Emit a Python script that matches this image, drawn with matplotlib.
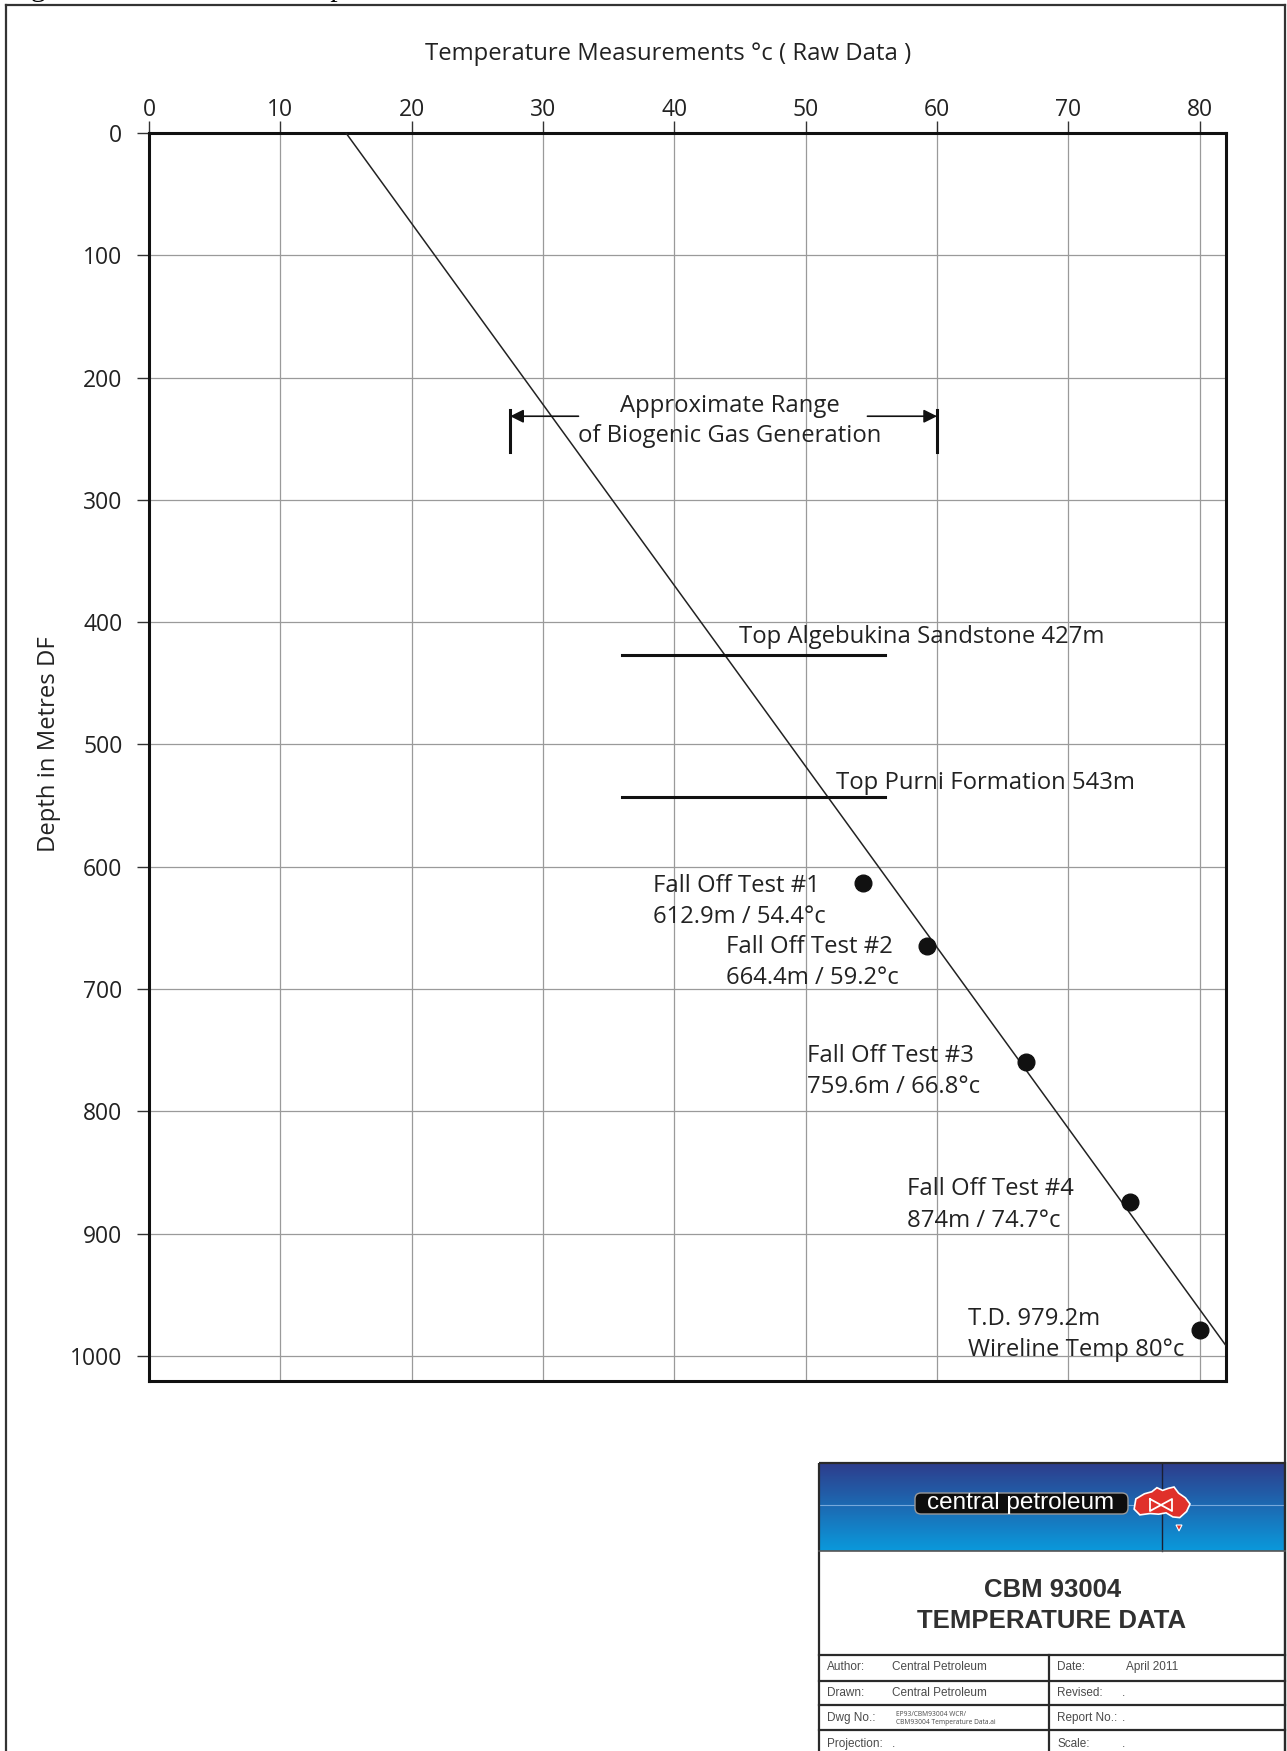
import matplotlib.pyplot as plt
import numpy as np
from matplotlib.patches import FancyBboxPatch, Polygon, Rectangle

# temperature / depth data
temp_ticks = list(range(0, 81, 10))
depth_ticks = list(range(0, 1001, 100))

test_names = ["Fall Off Test #1", "Fall Off Test #2", "Fall Off Test #3", "Fall Off Test #4"]
test_depth = [612.9, 664.4, 759.6, 874.0]
test_temp = [54.4, 59.2, 66.8, 74.7]

td_depth = 979.2
td_temp = 80.0

# straight-line gradient through the measurements
trend_temp = [15.0, 83.0]
trend_depth = [0.0, 1006.4]

tops_names = ["Top Algebukina Sandstone", "Top Purni Formation"]
tops_depth = [427, 543]
tops_span = [36.0, 56.0]

biogenic_range = [27.5, 60.0]
biogenic_depth = [226.5, 261.0]

W, H = 1287, 1751
fig = plt.figure(figsize=(W / 100, H / 100), dpi=100)
fig.patch.set_facecolor("white")

# page layer in pixel coordinates (frame, caption, title block)
bg = fig.add_axes([0, 0, 1, 1], zorder=0)
bg.axis("off")

SANS = ["Open Sans", "DejaVu Sans"]
ARIAL = ["Liberation Sans", "DejaVu Sans"]
INK = "#222222"
FS = 16.5   # tick labels
FT = 17.2   # annotations and axis titles

# main chart
ax = fig.add_axes([149 / W, 1 - 1381 / H, (1226 - 149) / W, (1381 - 133) / H], zorder=1)
ax.set_xlim(0, 82)
ax.set_ylim(1020.5, 0)
ax.set_xticks(temp_ticks)
ax.set_yticks(depth_ticks)
ax.xaxis.tick_top()
ax.grid(True, color="#9a9a9a", linewidth=0.9)
ax.set_axisbelow(True)
for s in ax.spines.values():
    s.set_linewidth(2.2)
    s.set_color("#111111")
ax.tick_params(axis="both", direction="out", length=8.6, width=1.0, color="#333333",
               labelsize=FS, labelcolor=INK)
ax.tick_params(axis="x", pad=-0.5)
ax.tick_params(axis="y", pad=10.5)
for lab in ax.get_xticklabels() + ax.get_yticklabels():
    lab.set_family(SANS)

ax.set_xlabel("Temperature Measurements °c ( Raw Data )", family=SANS, fontsize=FT, color=INK)
ax.xaxis.set_label_position("top")
ax.xaxis.set_label_coords(0.482, 1.0633)
ax.xaxis.label.set_va("center")
ax.set_ylabel("Depth in Metres DF", family=SANS, fontsize=FT, color=INK)
ax.yaxis.set_label_coords(-0.0924, 0.51)
ax.yaxis.label.set_va("center")

# gradient line and measured points
ax.plot(trend_temp, trend_depth, color=INK, linewidth=1.1, zorder=3)
ax.plot(test_temp + [td_temp], test_depth + [td_depth], "o", color="#111111",
        markersize=12, zorder=4)

# formation tops
for name, d in zip(tops_names, tops_depth):
    ax.plot(tops_span, [d, d], color="#111111", linewidth=2.2, zorder=3)
for name, d, x, y in zip(tops_names, tops_depth, [44.9, 52.3], [417, 536.4]):
    ax.text(x, y, f"{name} {d}m", family=SANS, fontsize=FT, color=INK, va="baseline")

# biogenic gas window
for t in biogenic_range:
    ax.plot([t, t], biogenic_depth, color="#111111", linewidth=2.2, zorder=3)
ax.annotate("", xy=(biogenic_range[0], 231.6), xytext=(32.7, 231.6),
            arrowprops=dict(arrowstyle="-|>", color="#111111", lw=1.2,
                            mutation_scale=20, shrinkA=0, shrinkB=0))
ax.annotate("", xy=(biogenic_range[1], 231.6), xytext=(54.7, 231.6),
            arrowprops=dict(arrowstyle="-|>", color="#111111", lw=1.2,
                            mutation_scale=20, shrinkA=0, shrinkB=0))
ax.text(44.2, 228.1, "Approximate Range", family=SANS, fontsize=FT, color=INK,
        ha="center", va="baseline")
ax.text(44.2, 252.7, "of Biogenic Gas Generation", family=SANS, fontsize=FT, color=INK,
        ha="center", va="baseline")

# point labels
label_x = [38.36, 43.9, 50.1, 57.7]
label_y = [620.6, 670.5, 759.3, 868.8]
for name, d, t, x, y in zip(test_names, test_depth, test_temp, label_x, label_y):
    ax.text(x, y, name, family=SANS, fontsize=FT, color=INK, va="baseline")
    ax.text(x, y + 25.5, f"{d:g}m / {t:g}°c", family=SANS, fontsize=FT, color=INK,
            va="baseline")
ax.text(62.36, 974.7, f"T.D. {td_depth:g}m", family=SANS, fontsize=FT, color=INK, va="baseline")
ax.text(62.36, 1000.1, f"Wireline Temp {td_temp:g}°c", family=SANS, fontsize=FT, color=INK,
        va="baseline")

# ---- page furniture ----
bg.text(6, -3.5, "Figure 9: CBM 93004 Temperature Data", family=["Liberation Serif"],
        fontsize=21.5, va="baseline", ha="left", color="black")
frame = "#333333"
bg.plot([6, 6], [5, H + 5], color=frame, lw=1.6)
bg.plot([6, 1285], [5, 5], color=frame, lw=1.6)
bg.plot([1285, 1285], [5, H + 5], color=frame, lw=1.6)

# title block banner
grad = np.linspace(0, 1, 120)[:, None]
c0 = np.array([0.18, 0.24, 0.55])
c1 = np.array([0.04, 0.60, 0.86])
img = (c0 + (c1 - c0) * grad[:, :, None]) * np.ones((1, 10, 1))
bg.imshow(img, extent=(819, 1285, 1551, 1464), aspect="auto", origin="upper", zorder=1)
bg.plot([819, 1285], [1505, 1505], color="#8fb8e6", lw=0.8, alpha=0.8, zorder=2)
bg.plot([1162, 1162], [1464, 1551], color="#1a1f33", lw=1.0, zorder=2)
bg.add_patch(FancyBboxPatch((915, 1493), 213, 21, boxstyle="round,pad=0,rounding_size=6",
                            facecolor="#0d0d0d", edgecolor="#9a9a9a", lw=1.0, zorder=3))
bg.text(1021, 1503, "central petroleum", family=ARIAL, fontsize=17.5, color="white",
        ha="center", va="center", zorder=4)
aus = np.array([(0.05, 0.35), (0.2, 0.2), (0.33, 0.14), (0.42, 0.02), (0.52, 0.1),
                (0.62, 0.04), (0.72, 0.0), (0.8, 0.18), (0.92, 0.32), (1.0, 0.5),
                (0.94, 0.72), (0.82, 0.9), (0.7, 0.88), (0.58, 0.76), (0.45, 0.8),
                (0.3, 0.78), (0.12, 0.82), (0.02, 0.65)])
aus = aus * [57, 34] + [1133, 1487]
bg.add_patch(Polygon(aus, closed=True, facecolor="#e0302a", edgecolor="white", lw=1.2, zorder=3))
bg.add_patch(Polygon([(1176, 1525), (1182, 1525), (1179, 1531)], closed=True,
                     facecolor="#e0302a", edgecolor="white", lw=0.8, zorder=3))
bg.plot([1150, 1150, 1172, 1172, 1150], [1499, 1511, 1499, 1511, 1499], color="white", lw=1.3, zorder=4)

# title block frame and text
edge = "#2a2a2a"
bg.add_patch(Rectangle((819, 1463), 466, 300, fill=False, edgecolor=edge, lw=1.6, zorder=5))
bg.plot([819, 1285], [1551, 1551], color="#555555", lw=1.2, zorder=5)
for y in [1655, 1681, 1705, 1730]:
    bg.plot([819, 1285], [y, y], color=edge, lw=1.6, zorder=5)
bg.plot([1049, 1049], [1655, H + 5], color=edge, lw=1.6, zorder=5)

bg.text(1053, 1590, "CBM 93004", family=ARIAL, fontweight="bold", fontsize=18.5,
        color="#303030", ha="center", va="center")
bg.text(1052, 1621, "TEMPERATURE DATA", family=ARIAL, fontweight="bold", fontsize=18.5,
        color="#303030", ha="center", va="center")

rows_left = [("Author:", "Central Petroleum"), ("Drawn:", "Central Petroleum"),
             ("Dwg No.:", None), ("Projection:", ".")]
rows_right = [("Date:", "April 2011"), ("Revised:", "."), ("Report No.:", "."), ("Scale:", ".")]
row_y = [1667, 1693, 1718, 1744]
for (k, v), (k2, v2), y in zip(rows_left, rows_right, row_y):
    bg.text(827, y, k, family=ARIAL, fontsize=8.5, color="#4a4a4a", va="center")
    if v is not None:
        bg.text(892, y, v, family=ARIAL, fontsize=8.5, color="#4a4a4a", va="center")
    bg.text(1057, y, k2, family=ARIAL, fontsize=8.5, color="#4a4a4a", va="center")
    bg.text(1126 if k2 == "Date:" else 1122, y, v2, family=ARIAL, fontsize=8.5,
            color="#4a4a4a", va="center")
bg.text(896, 1714, "EP93/CBM93004 WCR/", family=SANS, fontsize=4.8, color="#4a4a4a", va="center")
bg.text(896, 1722, "CBM93004 Temperature Data.ai", family=SANS, fontsize=4.8, color="#4a4a4a",
        va="center")

bg.set_xlim(0, W)
bg.set_ylim(H, 0)

fig.savefig("out.png", dpi=100)
